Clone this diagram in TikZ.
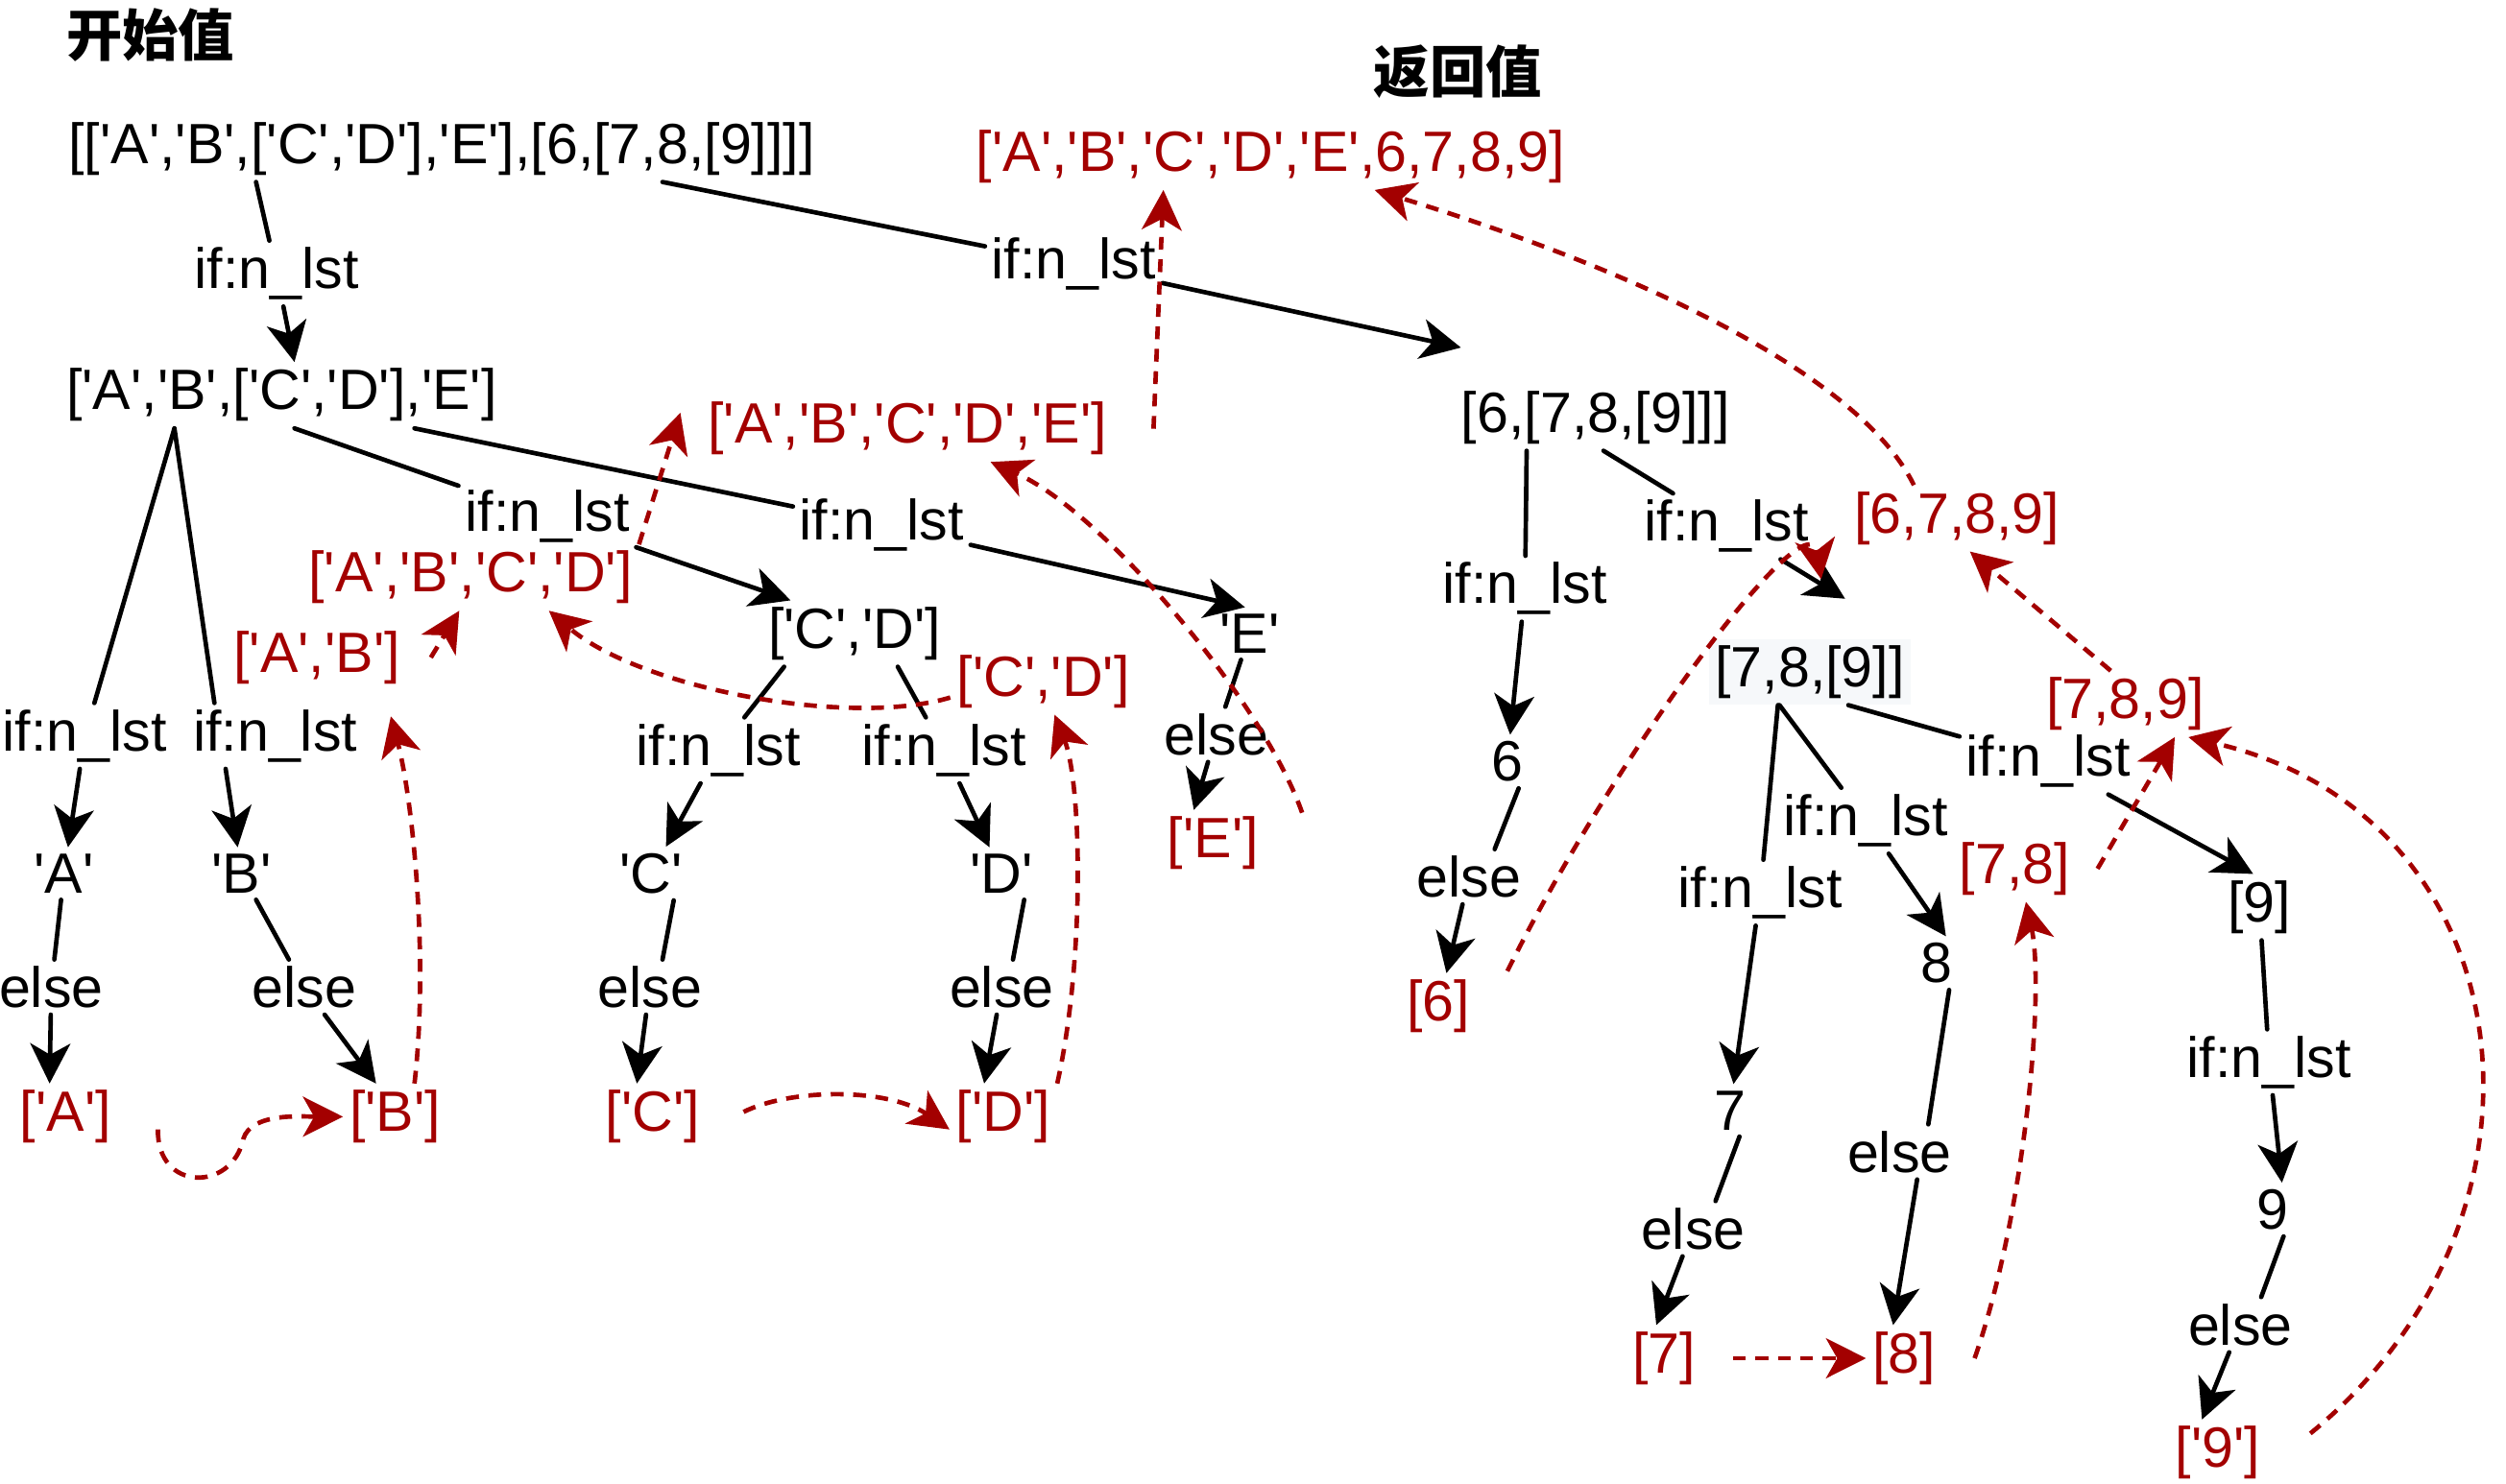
\documentclass[tikz,border=0pt]{standalone}
\usepackage{fontspec}
\setmainfont{Liberation Sans}[Ligatures=TeXOff]
\newfontfamily\cjk{Noto Sans CJK SC}
\usetikzlibrary{arrows.meta}
\definecolor{retred}{HTML}{A30000}
\definecolor{boxgray}{HTML}{F6F8FA}
\tikzset{
	txt/.style={font=\fontsize{35.5pt}{42pt}\selectfont, inner sep=4pt},
	rtxt/.style={txt, text=retred},
	hdr/.style={font=\cjk\bfseries\fontsize{35pt}{42pt}\selectfont, inner sep=0pt},
	link/.style={line width=2.8pt, line cap=round},
	walk/.style={link, -{Stealth[length=25pt, width=25pt, inset=7pt]}},
	ret/.style={line width=2.8pt, color=retred, dash pattern=on 8pt off 6pt, -{Stealth[length=25pt, width=25pt, inset=7pt]}}
}

\begin{document}
\begin{tikzpicture}[x=1pt, y=-1pt]
			%%%%% START %%%%%
			
			\useasboundingbox (0,0) rectangle (1566,927);
			
			\node[hdr] (tstart) at (94,22) {开始值};
			\node[hdr] (tback) at (911,45) {返回值};
			
			\node[txt] (root) at (276,93) {[['A','B',['C','D'],'E'],[6,[7,8,[9]]]]};
			\node[rtxt] (rall) at (794,98) {['A','B','C','D','E',6,7,8,9]};
			\node[txt] (if1) at (173,171) {if:n\_lst};
			\node[txt] (if2) at (671,165) {if:n\_lst};
			\node[txt] (abl) at (176,247) {['A','B',['C','D'],'E']};
			\node[txt] (six) at (997,261) {[6,[7,8,[9]]]};
			\node[rtxt] (rabcde) at (567,268) {['A','B','C','D','E']};
			\node[txt] (ifc) at (342,323) {if:n\_lst};
			\node[txt] (ife) at (551,328) {if:n\_lst};
			\node[txt] (if7) at (1079,329) {if:n\_lst};
			\node[rtxt] (r6789) at (1223,324) {[6,7,8,9]};
			\node[rtxt] (rabcd) at (294,361) {['A','B','C','D']};
			\node[txt] (if6) at (953,368) {if:n\_lst};
			\node[txt] (cdl) at (534,396) {['C','D']};
			\node[txt] (qe) at (781,396) {'E'};
			\node[rtxt] (rab) at (198,411) {['A','B']};
			\node[txt, fill=boxgray] (l789) at (1131,420) {[7,8,[9]]};
			\node[rtxt] (rcd) at (652,426) {['C','D']};
			\node[rtxt] (r789) at (1328,440) {[7,8,9]};
			\node[txt] (ifa) at (53,460) {if:n\_lst};
			\node[txt] (ifb) at (172,460) {if:n\_lst};
			\node[txt] (ifcc) at (449,469) {if:n\_lst};
			\node[txt] (ifd) at (590,469) {if:n\_lst};
			\node[txt] (elsee) at (760,459) {else};
			\node[txt] (if9) at (1280,476) {if:n\_lst};
			\node[txt] (n6) at (942,476) {6};
			\node[txt] (if8) at (1166,513) {if:n\_lst};
			\node[rtxt] (re) at (758,527) {['E']};
			\node[txt] (qa) at (40,546) {'A'};
			\node[txt] (qb) at (151,546) {'B'};
			\node[txt] (qc) at (407,546) {'C'};
			\node[txt] (qd) at (626,546) {'D'};
			\node[txt] (else6) at (918,548) {else};
			\node[txt] (if78) at (1100,558) {if:n\_lst};
			\node[rtxt] (r78) at (1259,543) {[7,8]};
			\node[txt] (l9) at (1412,567) {[9]};
			\node[txt] (n8) at (1210,602) {8};
			\node[rtxt] (r6) at (899,629) {[6]};
			\node[txt] (elsea) at (32,617) {else};
			\node[txt] (elseb) at (190,617) {else};
			\node[txt] (elsec) at (406,617) {else};
			\node[txt] (elsed) at (626,617) {else};
			\node[txt] (if99) at (1418,664) {if:n\_lst};
			\node[rtxt] (ra) at (41,698) {['A']};
			\node[rtxt] (rb) at (247,698) {['B']};
			\node[rtxt] (rc) at (408,698) {['C']};
			\node[rtxt] (rd) at (627,698) {['D']};
			\node[txt] (n7) at (1081,694) {7};
			\node[txt] (else8) at (1187,720) {else};
			\node[txt] (n9) at (1420,756) {9};
			\node[txt] (else7) at (1058,768) {else};
			\node[txt] (else9) at (1400,828) {else};
			\node[rtxt] (r7) at (1040,849) {[7]};
			\node[rtxt] (r8) at (1190,849) {[8]};
			\node[rtxt] (r9) at (1386,908) {['9']};
			\coordinate (r6end) at (1138,362);
			
			\draw[link] ([xshift=-116pt]root.south) -- (if1);
			\draw[walk] (if1) -- ([xshift=8pt]abl.north);
			\draw[link] ([xshift=138pt]root.south) -- (if2);
			\draw[walk] (if2) -- ([xshift=4pt,yshift=23pt]six.north west);
			\draw[link] ([xshift=8pt]abl.south) -- (ifc);
			\draw[walk] (ifc) -- ([xshift=-40pt]cdl.north);
			\draw[link] ([xshift=83pt]abl.south) -- (ife);
			\draw[walk] (ife) -- ([xshift=-3pt]qe.north);
			\draw[link] ([xshift=-67pt]abl.south) -- (ifa);
			\draw[link] ([xshift=-67pt]abl.south) -- ([xshift=-38pt]ifb.north);
			\draw[walk] (ifa) -- (qa);
			\draw[walk] ([xshift=-31pt]ifb.south) -- (qb);
			\draw[link] (qa) -- (elsea);
			\draw[walk] (elsea) -- ([xshift=-10pt]ra.north);
			\draw[link] (qb) -- (elseb);
			\draw[walk] (elseb) -- ([xshift=-12pt]rb.north);
			\draw[link] ([xshift=-44pt]cdl.south) -- (ifcc);
			\draw[link] ([xshift=27pt]cdl.south) -- (ifd);
			\draw[walk] (ifcc) -- (qc);
			\draw[walk] (ifd) -- (qd);
			\draw[link] ([xshift=14pt]qc.south) -- ([xshift=8pt]elsec.north);
			\draw[walk] (elsec) -- ([xshift=-10pt]rc.north);
			\draw[link] ([xshift=14pt]qd.south) -- ([xshift=7pt]elsed.north);
			\draw[walk] (elsed) -- ([xshift=-12pt]rd.north);
			\draw[link] (qe) -- (elsee);
			\draw[walk] (elsee) -- ([xshift=-12pt]re.north);
			
			\draw[link] ([xshift=-43pt]six.south) -- (if6);
			\draw[walk] (if6) -- (n6);
			\draw[link] ([xshift=5pt]six.south) -- (if7);
			\draw[walk] (if7) -- ([xshift=22pt,yshift=25pt]l789.north);
			\draw[link] ([xshift=24pt]l789.south) -- (if9);
			\draw[walk] (if9) -- ([xshift=-4pt]l9.north);
			\draw[link] ([xshift=-19pt]l789.south) -- (if8);
			\draw[link] ([xshift=-20pt]l789.south) -- (if78);
			\draw[walk] (if78) -- (n7);
			\draw[walk] (if8) -- ([xshift=6pt]n8.north);
			\draw[link] ([xshift=6pt]n7.south) -- ([xshift=14pt]else7.north);
			\draw[walk] (else7) -- ([xshift=-5pt]r7.north);
			\draw[link] ([xshift=8pt]n8.south) -- ([xshift=18pt]else8.north);
			\draw[walk] ([xshift=11pt]else8.south) -- ([xshift=-7pt]r8.north);
			\draw[link] (l9) -- (if99);
			\draw[walk] (if99) -- ([xshift=6pt]n9.north);
			\draw[link] ([xshift=7pt]n9.south) -- ([xshift=13pt]else9.north);
			\draw[walk] ([xshift=-7pt]else9.south) -- ([xshift=-10pt]r9.north);
			\draw[link] ([xshift=7pt]n6.south) -- ([xshift=16pt]else6.north);
			\draw[walk] (else6) -- (r6);
			
			\draw[ret] ([xshift=25pt]rabcde.east) -- ([xshift=-67pt]rall.south);
			\draw[ret] (rabcd.north east) -- ([xshift=-13pt,yshift=10pt]rabcde.west);
			\draw[ret] ([yshift=-10pt]rcd.west) .. controls (530,455) and (400,430) .. ([xshift=49pt]rabcd.south);
			\draw[ret] ([xshift=23pt,yshift=19pt]re.east) .. controls (790,440) and (690,320) .. ([xshift=52pt]rabcde.south);
			\draw[ret] ([xshift=12pt]rb.north) .. controls (268,600) and (258,500) .. ([xshift=-10pt,yshift=-16pt]rab.south east);
			\draw[ret] ([xshift=15pt]rab.east) -- ([xshift=-7pt]rabcd.south);
			\draw[ret] ([xshift=25pt,yshift=-8pt]ra.east) .. controls (98,745) and (145,745) .. (152,712) .. controls (157,695) and (190,698) .. (rb.west);
			\draw[ret] ([xshift=23pt,yshift=3pt]rc.east) .. controls (495,680) and (555,680) .. ([yshift=-8pt]rd.west);
			\draw[ret] (rd.north east) .. controls (678,600) and (676,490) .. ([xshift=7pt]rcd.south);
			\draw[ret] ([xshift=-27pt]r6789.north) .. controls (1160,230) and (1010,165) .. ([xshift=-123pt]rall.south east);
			\draw[ret] ([xshift=19pt,yshift=22pt]r6.east) .. controls (1010,470) and (1130,310) .. (r6end);
			\draw[ret] ([xshift=19pt]r7.east) -- (r8.west);
			\draw[ret] ([xshift=20pt]r8.east) .. controls (1265,760) and (1278,620) .. ([xshift=7pt]r78.south);
			\draw[ret] ([xshift=13pt]r78.east) -- ([xshift=31pt]r789.south);
			\draw[ret] ([xshift=-9pt]r789.north) -- ([xshift=8pt]r6789.south);
			\draw[ret] ([xshift=27pt,yshift=12pt]r9.east) .. controls (1610,760) and (1580,510) .. ([xshift=-14pt]r789.south east);
			
			%%%%% END %%%%%
\end{tikzpicture}
\end{document}
